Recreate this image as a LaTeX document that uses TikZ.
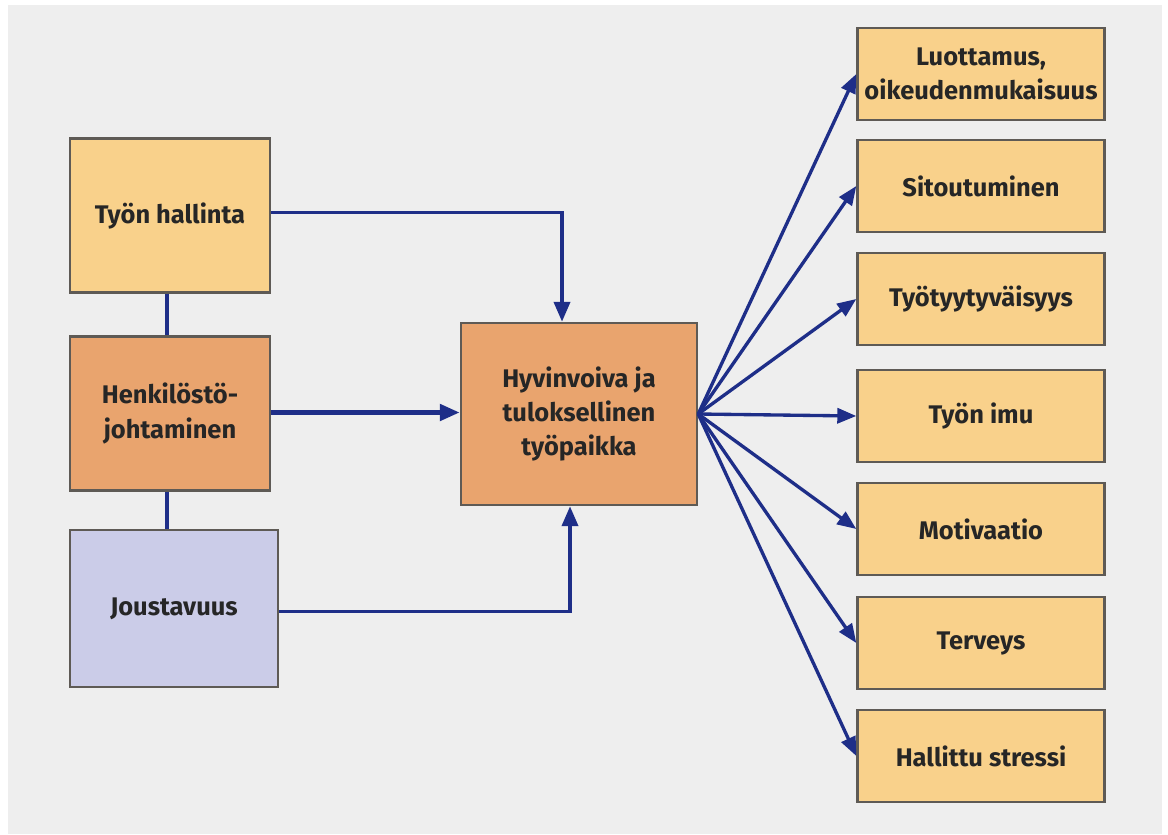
\documentclass[tikz,border=0pt]{standalone}
\usepackage{fontspec}
\setmainfont{Fira Sans}
\usepackage{xcolor}
\usetikzlibrary{arrows.meta, positioning, calc}
\definecolor{boxyellow}{HTML}{F9D18B}
\definecolor{boxorange}{HTML}{E9A46E}
\definecolor{boxlilac}{HTML}{CBCCE8}
\definecolor{edgegray}{HTML}{5E5A55}
\definecolor{arrowblue}{HTML}{1E2E88}
\definecolor{bggray}{HTML}{EEEEEE}

\begin{document}
\begin{tikzpicture}[
    x=0.02cm, y=-0.02cm,
    box/.style={rectangle, draw=edgegray, line width=1.4pt, align=center,
      font=\fontsize{14.5}{19.5}\selectfont\bfseries, text=black!85},
    src/.style={box, minimum width=4cm, minimum height=3.08cm},
    res/.style={box, fill=boxyellow, minimum width=4.94cm, minimum height=1.84cm},
    arr/.style={-{Triangle[length=4mm, width=3.2mm]}, line width=2.2pt, draw=arrowblue},
    fan/.style={-{Triangle[length=3.8mm, width=3mm]}, line width=1.9pt, draw=arrowblue},
    link/.style={line width=2.2pt, draw=arrowblue},
  ]
    % Background
    \useasboundingbox (0,0) rectangle (1168,834);
    \fill[white] (0,0) rectangle (1168,834);
    \fill[bggray] (8,5) rectangle (1162,834);

    % Left column
    \node[src, fill=boxyellow] (hallinta) at (170,215.5) {Työn hallinta};
    \node[src, fill=boxorange] (henkilosto) at (170,413.5) {Henkilöstö-\\johtaminen};
    \node[src, fill=boxlilac, minimum width=4.16cm, minimum height=3.14cm] (joustavuus) at (174,608.5) {Joustavuus};
    \draw[link] ($(hallinta.south)+(-3,0)$) -- ($(henkilosto.north)+(-3,0)$);
    \draw[link] ($(henkilosto.south)+(-3,0)$) -- ($(henkilosto.south |- joustavuus.north)+(-3,0)$);

    % Centre
    \node[box, fill=boxorange, minimum width=4.72cm, minimum height=3.64cm] (tyopaikka) at (579,414) {Hyvinvoiva ja\\tuloksellinen\\työpaikka};
    \draw[arr] ($(hallinta.east)+(0,-3)$) -| ($(tyopaikka.north)+(-17,0)$);
    \draw[arr, line width=2.8pt] ($(henkilosto.east)+(0,-1)$) -- (tyopaikka.west |- {$(henkilosto.east)+(0,-1)$});
    \draw[arr] ($(joustavuus.east)+(0,3)$) -| ($(tyopaikka.south)+(-9,0)$);

    % Right column
    \node[res] (luottamus) at (981,74) {Luottamus,\\oikeudenmukaisuus};
    \node[res] (sitoutuminen) at (981,186) {Sitoutuminen};
    \node[res] (tyytyvaisyys) at (981,299) {Työtyytyväisyys};
    \node[res] (imu) at (981,416) {Työn imu};
    \node[res] (motivaatio) at (981,529) {Motivaatio};
    \node[res] (terveys) at (981,643) {Terveys};
    \node[res] (stressi) at (981,756) {Hallittu stressi};

    % Fan of arrows
    \foreach \t in {luottamus, sitoutuminen, tyytyvaisyys, imu, motivaatio, terveys, stressi}
      \draw[fan] (tyopaikka.east) -- (\t.west);
  \end{tikzpicture}
\end{document}
